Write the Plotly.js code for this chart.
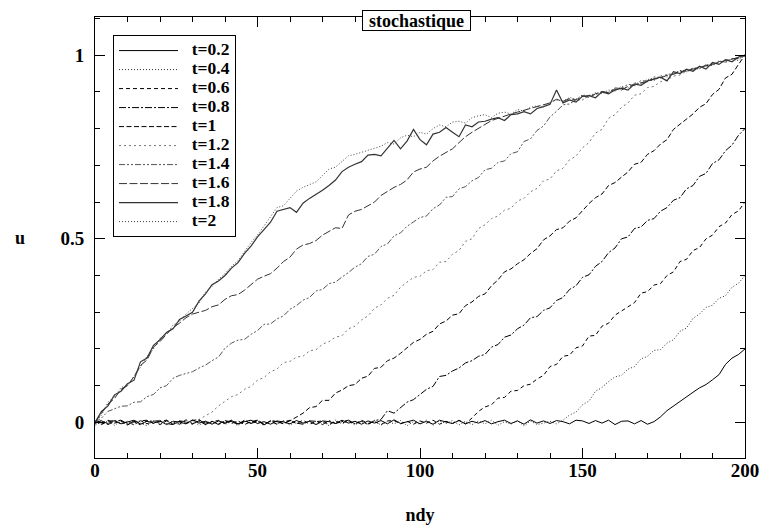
<!DOCTYPE html>
<html>
<head>
<meta charset="utf-8">
<script src="https://cdn.plot.ly/plotly-3.0.1.min.js"></script>
<style>html,body{margin:0;padding:0;background:#fff;}#chart{width:760px;height:529px;}</style>
</head>
<body>
<div id="chart"></div>
<script>
// grid positions (ndy)
var ndy = [0,2,4,6,8,10,12,14,16,18,20,22,24,26,28,30,32,34,36,38,40,42,44,46,48,50,52,54,56,58,60,62,64,66,68,70,72,74,76,78,80,82,84,86,88,90,92,94,96,98,100,102,104,106,108,110,112,114,116,118,120,122,124,126,128,130,132,134,136,138,140,142,144,146,148,150,152,154,156,158,160,162,164,166,168,170,172,174,176,178,180,182,184,186,188,190,192,194,196,198,200];

var seriesNames = ['t=0.2','t=0.4','t=0.6','t=0.8','t=1','t=1.2','t=1.4','t=1.6','t=1.8','t=2'];

var u_t02 = [
0,0.004,-0.003,0.005,-0.004,0.002,0.006,-0.005,0.003,-0.002,
0.004,-0.006,0.003,0.001,-0.004,0.007,-0.002,0.003,-0.005,0.004,
-0.002,0.005,-0.004,0.002,0.006,-0.003,0.002,-0.005,0.004,0.001,
-0.004,0.005,-0.002,0.003,-0.006,0.004,0.002,-0.003,0.006,-0.002,
0.003,-0.005,0.004,-0.002,0.005,-0.004,0.007,-0.003,0.002,0.006,
-0.004,0.003,-0.005,0.006,0.001,-0.003,0.005,-0.004,0.003,-0.002,
0.005,-0.004,0.002,0.006,-0.003,0.004,-0.005,0.007,-0.002,0.004,
-0.003,0.005,0.002,-0.004,0.006,0.004,-0.003,0.005,-0.002,0.006,
-0.006,0.003,0.004,-0.004,0.005,-0.005,0.002,0.015,0.032,0.045,
0.058,0.071,0.082,0.094,0.103,0.116,0.13,0.158,0.175,0.185,
0.2];

var u_t04 = [
0,-0.005,0.004,-0.008,0.003,-0.006,0.005,-0.003,-0.009,0.004,
-0.004,0.006,-0.007,0.002,-0.005,0.005,-0.008,0.003,-0.004,0.006,
-0.006,0.003,-0.009,0.004,-0.002,0.006,-0.007,0.002,-0.005,0.004,
-0.008,0.005,-0.003,0.004,-0.006,0.002,-0.009,0.006,-0.004,0.003,
-0.007,0.004,-0.005,0.006,-0.008,0.003,-0.004,0.005,-0.009,0.002,
-0.005,0.006,-0.008,0.004,-0.003,0.005,-0.007,0.003,-0.006,0.004,
-0.004,0.006,-0.008,0.002,-0.005,0.005,-0.01,0.004,-0.006,-0.002,
0.003,-0.004,0.006,0.02,0.028,0.048,0.058,0.085,0.095,0.111,
0.124,0.128,0.145,0.152,0.173,0.18,0.196,0.198,0.216,0.225,
0.248,0.257,0.283,0.295,0.313,0.319,0.338,0.345,0.368,0.379,
0.4];

var u_t06 = [
0.003,-0.004,0.006,-0.002,0.004,-0.007,0.002,0.005,-0.004,0.003,
-0.006,0.004,0.002,-0.005,0.007,-0.003,0.004,-0.006,0.002,0.005,
-0.003,0.006,-0.005,0.003,-0.002,0.005,-0.006,0.004,0.002,-0.004,
0.005,-0.003,0.006,-0.005,0.002,0.004,-0.006,0.003,-0.002,0.005,
-0.004,0.006,-0.003,0.002,-0.006,0.004,0.005,-0.004,0.003,-0.005,
0.004,-0.002,0.006,-0.005,0.003,-0.003,0.006,-0.004,0.012,0.03,
0.042,0.048,0.066,0.068,0.085,0.087,0.1,0.104,0.118,0.128,
0.152,0.158,0.18,0.183,0.203,0.208,0.235,0.237,0.262,0.27,
0.292,0.304,0.316,0.326,0.352,0.356,0.374,0.378,0.4,0.41,
0.438,0.444,0.468,0.476,0.5,0.51,0.533,0.543,0.566,0.576,
0.6];

var u_t08 = [
-0.003,0.005,-0.006,0.003,0.006,-0.004,0.002,-0.007,0.004,0.003,
0.005,-0.003,-0.006,0.004,0.002,-0.005,0.006,-0.002,0.003,-0.006,
0.004,0.002,-0.005,0.006,-0.003,0.003,-0.007,0.005,0.002,-0.004,
0.006,-0.002,-0.005,0.004,0.003,-0.006,0.005,-0.003,0.002,0.006,
-0.004,0.003,-0.006,0.005,0.008,0.032,0.025,0.04,0.055,0.062,
0.075,0.09,0.098,0.125,0.128,0.14,0.148,0.162,0.168,0.18,
0.185,0.205,0.212,0.232,0.238,0.255,0.265,0.285,0.288,0.305,
0.312,0.332,0.34,0.362,0.372,0.395,0.402,0.425,0.438,0.462,
0.475,0.5,0.505,0.528,0.532,0.55,0.555,0.575,0.585,0.605,
0.612,0.636,0.645,0.67,0.678,0.705,0.715,0.74,0.755,0.782,
0.8];

var u_t10 = [
0.004,-0.006,0.003,0.005,-0.004,0.002,-0.007,0.004,0.006,-0.003,
0.002,0.006,-0.005,0.003,-0.002,0.005,0.008,-0.006,0.003,-0.004,
0.005,-0.003,0.004,-0.006,0.002,0.006,-0.004,0.003,-0.005,0.004,
0.004,0.015,0.025,0.04,0.043,0.06,0.06,0.08,0.088,0.1,
0.103,0.12,0.126,0.147,0.15,0.168,0.175,0.188,0.202,0.218,
0.226,0.24,0.248,0.268,0.276,0.292,0.296,0.318,0.328,0.343,
0.35,0.372,0.388,0.41,0.418,0.432,0.443,0.46,0.473,0.497,
0.508,0.525,0.53,0.548,0.557,0.578,0.596,0.612,0.622,0.645,
0.653,0.668,0.682,0.703,0.708,0.73,0.74,0.758,0.77,0.798,
0.812,0.828,0.84,0.858,0.868,0.893,0.907,0.938,0.948,0.975,
1.0];

var u_t12 = [
-0.008,0.004,-0.004,0.006,-0.002,0.003,-0.006,0.005,-0.003,0.002,
0.006,-0.004,0.003,-0.007,0.004,-0.002,0.008,0.02,0.028,0.045,
0.058,0.07,0.076,0.09,0.098,0.115,0.122,0.138,0.145,0.163,
0.166,0.178,0.18,0.195,0.198,0.213,0.22,0.232,0.236,0.255,
0.262,0.279,0.29,0.311,0.32,0.338,0.346,0.368,0.382,0.395,
0.398,0.413,0.416,0.436,0.438,0.458,0.468,0.493,0.5,0.528,
0.538,0.555,0.562,0.578,0.583,0.603,0.61,0.628,0.637,0.658,
0.663,0.685,0.692,0.715,0.725,0.748,0.762,0.788,0.798,0.828,
0.838,0.858,0.87,0.891,0.895,0.912,0.915,0.928,0.932,0.943,
0.946,0.957,0.958,0.967,0.968,0.977,0.98,0.987,0.988,0.996,
1.0];

var u_t14 = [
0.0,0.012,0.03,0.036,0.044,0.045,0.055,0.056,0.07,0.076,
0.094,0.1,0.12,0.128,0.134,0.138,0.148,0.156,0.168,0.178,
0.202,0.216,0.224,0.226,0.24,0.25,0.267,0.268,0.282,0.29,
0.308,0.318,0.333,0.34,0.358,0.362,0.378,0.382,0.396,0.408,
0.423,0.432,0.452,0.458,0.479,0.486,0.508,0.516,0.534,0.545,
0.558,0.562,0.582,0.592,0.613,0.615,0.636,0.642,0.658,0.667,
0.688,0.692,0.708,0.712,0.732,0.737,0.765,0.772,0.795,0.807,
0.832,0.847,0.865,0.867,0.879,0.878,0.891,0.892,0.901,0.899,
0.911,0.909,0.921,0.917,0.931,0.929,0.941,0.939,0.948,0.949,
0.958,0.955,0.965,0.965,0.973,0.972,0.983,0.981,0.991,0.99,
1.0];

var u_t16 = [
0.0,0.025,0.05,0.065,0.09,0.1,0.125,0.155,0.17,0.205,
0.22,0.24,0.258,0.27,0.285,0.295,0.3,0.305,0.315,0.32,
0.335,0.345,0.348,0.36,0.375,0.39,0.398,0.405,0.42,0.438,
0.45,0.472,0.483,0.487,0.495,0.51,0.52,0.53,0.528,0.565,
0.575,0.58,0.59,0.6,0.618,0.63,0.64,0.648,0.66,0.682,
0.69,0.695,0.712,0.725,0.735,0.745,0.762,0.778,0.79,0.8,
0.812,0.822,0.828,0.835,0.84,0.845,0.85,0.855,0.858,0.865,
0.87,0.88,0.874,0.882,0.878,0.89,0.885,0.895,0.9,0.898,
0.908,0.905,0.915,0.918,0.925,0.928,0.935,0.938,0.945,0.948,
0.955,0.96,0.962,0.966,0.972,0.975,0.98,0.985,0.99,0.992,
1.0];

var u_t18 = [
0.0,0.03,0.045,0.075,0.085,0.105,0.115,0.165,0.175,0.21,
0.225,0.245,0.255,0.28,0.29,0.3,0.33,0.35,0.375,0.385,
0.4,0.42,0.435,0.46,0.48,0.505,0.525,0.545,0.575,0.58,
0.585,0.572,0.597,0.61,0.62,0.632,0.645,0.66,0.683,0.695,
0.703,0.71,0.728,0.73,0.726,0.746,0.768,0.745,0.766,0.798,
0.77,0.756,0.785,0.79,0.803,0.79,0.778,0.81,0.805,0.818,
0.82,0.826,0.83,0.822,0.838,0.84,0.846,0.84,0.855,0.86,
0.866,0.905,0.87,0.878,0.872,0.888,0.89,0.884,0.9,0.895,
0.905,0.91,0.905,0.922,0.918,0.93,0.935,0.94,0.93,0.955,
0.95,0.962,0.956,0.97,0.962,0.98,0.975,0.988,0.982,0.995,
1.0];

var u_t20 = [
0.0,0.02,0.055,0.07,0.095,0.1,0.125,0.15,0.18,0.2,
0.23,0.24,0.265,0.275,0.295,0.31,0.325,0.355,0.37,0.39,
0.405,0.425,0.44,0.465,0.49,0.51,0.535,0.56,0.585,0.59,
0.61,0.63,0.64,0.648,0.655,0.672,0.69,0.695,0.71,0.726,
0.73,0.735,0.742,0.745,0.752,0.762,0.758,0.775,0.782,0.778,
0.79,0.785,0.8,0.81,0.805,0.818,0.82,0.815,0.83,0.835,
0.838,0.83,0.842,0.845,0.84,0.852,0.848,0.858,0.862,0.858,
0.872,0.878,0.875,0.885,0.88,0.892,0.888,0.898,0.895,0.905,
0.902,0.915,0.91,0.925,0.922,0.935,0.93,0.945,0.94,0.95,
0.958,0.955,0.965,0.962,0.975,0.972,0.985,0.98,0.99,0.985,
1.0];

var seriesValues = [u_t02,u_t04,u_t06,u_t08,u_t10,u_t12,u_t14,u_t16,u_t18,u_t20];
var lineColors = ['#000','#333','#000','#000','#000','#777','#555','#333','#333','#444'];
var lineDashes = ['solid','1px,2px','4px,3px','7px,2px,2px,2px','5px,2.5px','2px,3px','6px,2px,2px,2px,2px,2px','8px,2.5px','solid','1px,2px'];
var lineWidths = [1,1,1,1,1,1,1,1,1.2,1];

var NB = '\u00A0\u00A0';
var traces = seriesNames.map(function(nm, i){
  return {
    x: ndy, y: seriesValues[i], type: 'scatter', mode: 'lines',
    name: '<span style="font-size:17.5px">' + NB + nm + '</span>',
    line: {color: lineColors[i], dash: lineDashes[i], width: lineWidths[i]},
    hoverinfo: 'skip'
  };
});

var serif = 'Liberation Serif, Times New Roman, serif';

var layout = {
  width: 760, height: 529,
  margin: {l: 95, r: 15, t: 17, b: 71},
  paper_bgcolor: '#fff', plot_bgcolor: '#fff',
  font: {family: serif, size: 18, color: '#000', weight: 'bold'},
  showlegend: true,
  xaxis: {
    range: [0, 200], tick0: 0, dtick: 50,
    ticks: 'inside', ticklen: 10, tickwidth: 1, tickcolor: '#000',
    showline: true, linecolor: '#000', linewidth: 1, mirror: 'allticks',
    showgrid: false, zeroline: false,
    minor: {dtick: 10, ticks: 'inside', ticklen: 5, tickwidth: 1, tickcolor: '#000', showgrid: false},
    tickfont: {family: serif, size: 19, weight: 'bold', color: '#000'},
    ticklabelstandoff: -5,
    title: {text: 'ndy', standoff: 28, font: {family: serif, size: 18, weight: 'bold', color: '#000'}}
  },
  yaxis: {
    range: [-0.097, 1.104], tick0: 0, dtick: 0.5,
    ticks: 'inside', ticklen: 10, tickwidth: 1, tickcolor: '#000',
    showline: true, linecolor: '#000', linewidth: 1, mirror: 'allticks',
    showgrid: false, zeroline: false,
    minor: {dtick: 0.1, ticks: 'inside', ticklen: 5, tickwidth: 1, tickcolor: '#000', showgrid: false},
    tickfont: {family: serif, size: 19, weight: 'bold', color: '#000'},
    ticklabelstandoff: 6
  },
  legend: {
    x: 0.0277, y: 0.959, xanchor: 'left', yanchor: 'top',
    bgcolor: '#fff', bordercolor: '#000', borderwidth: 1,
    font: {family: serif, size: 12, weight: 'bold', color: '#000'},
    itemwidth: 59, tracegroupgap: 0
  },
  annotations: [
    {text: 'stochastique', xref: 'paper', yref: 'paper', x: 0.4946, y: 0.993,
     xanchor: 'center', yanchor: 'middle', showarrow: false, width: 107, height: 19,
     font: {family: serif, size: 18, weight: 'bold', color: '#000'},
     bgcolor: '#fff', bordercolor: '#000', borderwidth: 1, borderpad: 0},
    {text: 'u', xref: 'paper', yref: 'paper', x: -0.115, y: 0.499,
     xanchor: 'center', yanchor: 'middle', showarrow: false,
     font: {family: serif, size: 18, weight: 'bold', color: '#000'}}
  ]
};

Plotly.newPlot('chart', traces, layout, {staticPlot: true, displayModeBar: false});
</script>
</body>
</html>
